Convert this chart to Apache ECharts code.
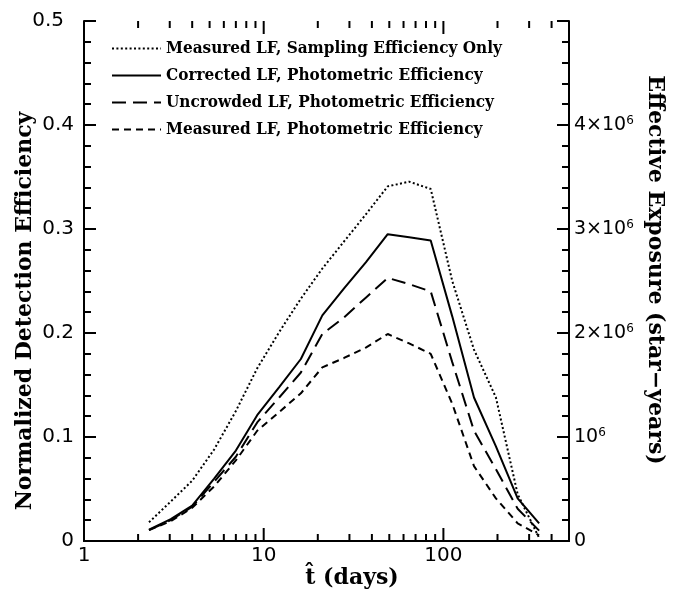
<!DOCTYPE html>
<html>
<head>
<meta charset="utf-8">
<title>Detection Efficiency</title>
<script src="https://cdn.jsdelivr.net/npm/echarts@6/dist/echarts.min.js"></script>
<style>
    html, body { margin: 0; padding: 0; background: #fff; }
    #chart { width: 673px; height: 601px; }
</style>
</head>
<body>
<div id="chart"></div>
<script>
    // t-hat (days), log grid
    const days = [2.3, 3.04, 4.0, 5.3, 7.0, 9.2, 12.2, 16.1, 21.2, 28, 37, 49, 64.5, 85, 112, 148, 196, 259, 341]
    // Measured LF, Sampling Efficiency Only (dotted)
    const samplingOnly = [0.018, 0.038, 0.058, 0.088, 0.125, 0.166, 0.201, 0.233, 0.262, 0.288, 0.314, 0.341, 0.3455, 0.3385, 0.25, 0.184, 0.138, 0.045, 0.003]
    // Corrected LF, Photometric Efficiency (solid)
    const correctedLF = [0.011, 0.021, 0.034, 0.060, 0.087, 0.121, 0.148, 0.175, 0.217, 0.243, 0.268, 0.295, 0.292, 0.289, 0.216, 0.138, 0.091, 0.041, 0.017]
    // Uncrowded LF, Photometric Efficiency (long dash)
    const uncrowdedLF = [0.0105, 0.020, 0.033, 0.057, 0.081, 0.114, 0.138, 0.162, 0.199, 0.215, 0.234, 0.253, 0.247, 0.240, 0.172, 0.106, 0.069, 0.031, 0.010]
    // Measured LF, Photometric Efficiency (short dash)
    const measuredLF = [0.0105, 0.019, 0.032, 0.0525, 0.0775, 0.106, 0.124, 0.142, 0.167, 0.176, 0.186, 0.199, 0.190, 0.180, 0.132, 0.072, 0.041, 0.017, 0.0055]

    // x axis ticks (drawn by hand because the log axis gives decades only)
    const majorTicksX = [10, 100]
    const minorTicksX = [2, 3, 4, 5, 6, 7, 8, 9, 20, 30, 40, 50, 60, 70, 80, 90, 200, 300, 400]

    const seriesNames = [
        'Measured LF, Sampling Efficiency Only',
        'Corrected LF, Photometric Efficiency',
        'Uncrowded LF, Photometric Efficiency',
        'Measured LF, Photometric Efficiency'
    ]

    const tickFont = 'DejaVu Sans'
    const titleFont = 'DejaVu Serif'

    function pairs(ys) {
        return days.map((d, i) => [d, ys[i]])
    }

    function lineSeries(name, ys, type) {
        return {
            name: name,
            type: 'line',
            data: pairs(ys),
            symbol: 'none',
            showSymbol: false,
            silent: true,
            itemStyle: { color: '#000' },
            lineStyle: {
                color: '#000',
                width: 2,
                type: type
            }
        }
    }

    // 上下两边的刻度
    function tickSeries(values, len) {
        return {
            type: 'custom',
            silent: true,
            xAxisIndex: 0,
            yAxisIndex: 0,
            data: values.map(v => [v]),
            renderItem: function (params, api) {
                const v = api.value(0)
                const b = api.coord([v, 0])
                const t = api.coord([v, 0.5])
                const st = { stroke: '#000', lineWidth: 2 }
                return {
                    type: 'group',
                    children: [{
                        type: 'line',
                        shape: { x1: b[0], y1: b[1], x2: b[0], y2: b[1] - len },
                        style: st
                    }, {
                        type: 'line',
                        shape: { x1: t[0], y1: t[1], x2: t[0], y2: t[1] + len },
                        style: st
                    }]
                }
            }
        }
    }

    const chart = echarts.init(document.getElementById('chart'), null, { renderer: 'canvas' })

    const option = {
        animation: false,
        backgroundColor: '#fff',
        grid: {
            left: 84,
            right: 104,
            top: 21,
            bottom: 60,
            containLabel: false
        },
        legend: {
            data: seriesNames,
            orient: 'vertical',
            left: 106,
            top: 35,
            itemWidth: 49,
            itemHeight: 14,
            itemGap: 10,
            selectedMode: false,
            itemStyle: { opacity: 0 },
            textStyle: {
                fontFamily: 'DejaVu Serif Condensed',
                fontWeight: 'bold',
                fontSize: 17,
                color: '#000'
            }
        },
        xAxis: [{
            type: 'log',
            logBase: 10,
            min: 1,
            max: 500,
            position: 'bottom',
            axisLine: { lineStyle: { color: '#000', width: 2 } },
            axisTick: { show: false },
            axisLabel: {
                showMaxLabel: false,
                color: '#000',
                fontFamily: tickFont,
                fontSize: 20,
                margin: 5
            },
            splitLine: { show: false }
        }, {
            // top frame
            type: 'log',
            logBase: 10,
            min: 1,
            max: 500,
            position: 'top',
            axisLine: { lineStyle: { color: '#000', width: 2 } },
            axisTick: { show: false },
            axisLabel: { show: false },
            splitLine: { show: false }
        }],
        yAxis: [{
            type: 'value',
            min: 0,
            max: 0.5,
            interval: 0.1,
            position: 'left',
            axisLine: { show: true, lineStyle: { color: '#000', width: 2 } },
            axisTick: { show: true, inside: true, length: 12, lineStyle: { color: '#000', width: 2 } },
            minorTick: { show: true, splitNumber: 5, length: 7, lineStyle: { color: '#000', width: 2 } },
            axisLabel: {
                color: '#000',
                fontFamily: tickFont,
                fontSize: 20,
                margin: 10,
                formatter: function (v) {
                    return v >= 0.5 ? '{top|0.5}' : String(v)
                },
                rich: {
                    top: { fontFamily: tickFont, fontSize: 20, color: '#000', padding: [0, 10, 0, 0] }
                }
            },
            splitLine: { show: false }
        }, {
            type: 'value',
            min: 0,
            max: 5e6,
            interval: 1e6,
            position: 'right',
            axisLine: { show: true, lineStyle: { color: '#000', width: 2 } },
            axisTick: { show: true, inside: true, length: 12, lineStyle: { color: '#000', width: 2 } },
            minorTick: { show: true, splitNumber: 5, length: 7, lineStyle: { color: '#000', width: 2 } },
            axisLabel: {
                color: '#000',
                fontFamily: tickFont,
                fontSize: 19,
                margin: 5,
                formatter: function (v) {
                    if (v === 0) return '0'
                    if (v >= 5e6) return ''
                    const n = Math.round(v / 1e6)
                    return n === 1 ? '10{s|6}' : n + '×10{s|6}'
                },
                rich: {
                    s: {
                        fontFamily: tickFont,
                        fontSize: 12,
                        color: '#000',
                        verticalAlign: 'top',
                        padding: [0, 0, 8, 0]
                    }
                }
            },
            splitLine: { show: false }
        }],
        graphic: [{
            type: 'text',
            x: 25,
            y: 311,
            rotation: Math.PI / 2,
            style: {
                text: 'Normalized Detection Efficiency',
                fontFamily: titleFont,
                fontWeight: 'bold',
                fontSize: 22,
                fill: '#000',
                align: 'center',
                verticalAlign: 'middle'
            }
        }, {
            type: 'text',
            x: 655,
            y: 270,
            rotation: -Math.PI / 2,
            style: {
                text: 'Effective Exposure (star\u2212years)',
                fontFamily: titleFont,
                fontWeight: 'bold',
                fontSize: 22,
                fill: '#000',
                align: 'center',
                verticalAlign: 'middle'
            }
        }, {
            type: 'text',
            x: 352,
            y: 578,
            style: {
                text: 't\u0302 (days)',
                fontFamily: titleFont,
                fontWeight: 'bold',
                fontSize: 22,
                fill: '#000',
                align: 'center',
                verticalAlign: 'middle'
            }
        }],
        series: [
            lineSeries(seriesNames[0], samplingOnly, [2, 2.4]),
            lineSeries(seriesNames[1], correctedLF, 'solid'),
            lineSeries(seriesNames[2], uncrowdedLF, [14, 7]),
            lineSeries(seriesNames[3], measuredLF, [7, 5]),
            tickSeries(majorTicksX, 13),
            tickSeries(minorTicksX, 7)
        ]
    }
    chart.setOption(option)
</script>
</body>
</html>
